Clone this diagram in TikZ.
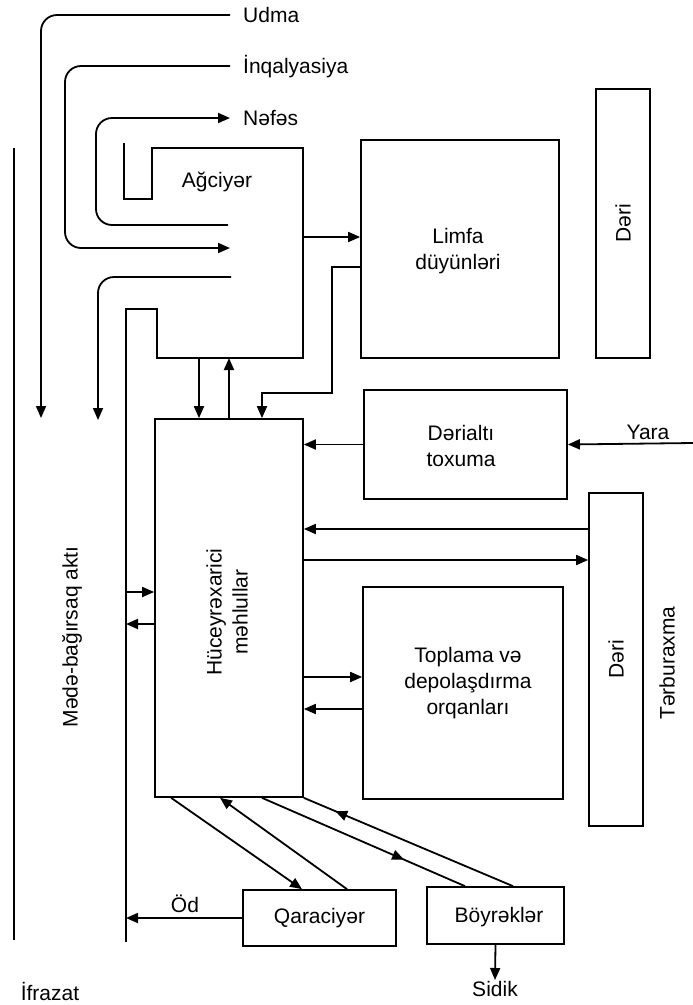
\documentclass[tikz,border=0pt]{standalone}
\usepackage{fontspec}
\setmainfont{Liberation Sans}
\usetikzlibrary{arrows.meta,decorations.markings,calc}
\newcommand\dfont{\fontsize{21}{26}\selectfont}
\begin{document}
\begin{tikzpicture}[x=1pt,y=-1pt,
  ln/.style={line width=1.8pt},
  arr/.style={ln,-{Triangle[length=12pt,width=10pt]}},
  midarr/.style={ln,postaction={decorate},decoration={markings,
     mark=at position #1 with {\arrow{Triangle[length=12pt,width=10pt]}}}},
  box/.style={draw,line width=1.7pt,inner sep=0pt},
  lbl/.style={inner sep=0pt,font=\dfont,align=center},
  tag/.style={inner sep=0pt,font=\dfont,text height=15pt,text depth=0pt},
  rc/.style={rounded corners=16pt}]
\useasboundingbox (0,0) rectangle (693,1005);

% ---------- boxes ----------
\node[box,minimum width=198pt,minimum height=218pt] (limfa) at (460,249) {};
\node[lbl] (limfat) at (458,251) {Limfa\\düyünləri};
\node[box,minimum width=54pt,minimum height=269pt] (deri1) at (623,223.5) {};
\node[lbl,rotate=90] (deri1t) at (deri1) {Dəri};
\node[box,minimum width=203pt,minimum height=109pt] (derialti) at (465.5,444.5) {};
\node[lbl] (derialtit) at (461,446) {Dərialtı\\toxuma};
\node[box,minimum width=148pt,minimum height=378pt] (huc) at (229,608) {};
\node[lbl,rotate=90] (huct) at (227,612) {Hüceyrəxarici\\məhlullar};
\node[box,minimum width=54pt,minimum height=333pt] (deri2) at (616,659.5) {};
\node[lbl,rotate=90] (deri2t) at (deri2) {Dəri};
\node[box,minimum width=200pt,minimum height=212pt] (toplama) at (463,693) {};
\node[lbl] (toplamat) at (468,683) {Toplama və\\depolaşdırma\\orqanları};
\node[box,minimum width=153pt,minimum height=56pt] (qara) at (319.5,918) {};
\node[lbl] (qarat) at (qara) {Qaraciyər};
\node[box,minimum width=137pt,minimum height=57pt] (boyr) at (495.5,915.5) {};
\node[lbl] (boyrt) at (499,917) {Böyrəklər};

% ---------- lung outline and gut channel ----------
\draw[ln] (124,143) -- (124,199) -- (152,199) -- (152,148) -- (303,148) -- (303,358)
  -- (157,358) -- (157,309) -- (126,309) -- (126,942);
\node[lbl] (agc) at (217,182) {Ağciyər};
\draw[ln] (14,148) -- (14,940);

% ---------- free labels ----------
\node[tag,anchor=west] (udma) at (243,15) {Udma};
\node[tag,anchor=west] (inq) at (243,66) {İnqalyasiya};
\node[tag,anchor=west] (nefes) at (243,118) {Nəfəs};
\node[tag] (yara) at (648,432) {Yara};
\node[tag,anchor=base] (od) at (185,912) {Öd};
\node[tag] (ifrazat) at (50,993) {İfrazat};
\node[tag,anchor=north,inner ysep=1pt] (sidik) at (495,980) {Sidik};
\node[lbl,rotate=90] (mede) at (72,637) {Mədə-bağırsaq aktı};
\node[lbl,rotate=90] (terb) at (667,663) {Tərburaxma};

% ---------- coordinates ----------
\coordinate (udmaE) at (41,418);
\coordinate (inqC) at (65,248);
\coordinate (inqE) at (230,248);
\coordinate (nefS) at (228,225);
\coordinate (nefC) at (96,118);
\coordinate (l4S) at (231,277);
\coordinate (l4E) at (98,420);
\coordinate (agcR) at (303,237);
\coordinate (agcB1) at (199,358);
\coordinate (agcB2) at (229,358);
\coordinate (yaraS) at (693,443);
\coordinate (gut) at (126,700);
\coordinate (y267) at (0,267);
\coordinate (y529) at (0,529);
\coordinate (y560) at (0,560);
\coordinate (y592) at (0,592);
\coordinate (y624) at (0,624);
\coordinate (y677) at (0,677);
\coordinate (y709) at (0,709);

% ---------- breathing paths ----------
\draw[arr,rc] ([xshift=-13pt]udma.west) -| (udmaE);
\draw[arr,rc] ([xshift=-13pt]inq.west) -| (inqC) -- (inqE);
\draw[arr,rc] (nefS) -| (nefC) -- ([xshift=-13pt]nefes.west);
\draw[arr,rc] (l4S) -| (l4E);

% ---------- connectors ----------
\draw[arr] (agcR) -- (agcR -| limfa.west);
\draw[arr] (limfa.west |- y267) -| (332,393) -| ([xshift=33pt]huc.north);
\draw[arr] (agcB1) -- (agcB1 |- huc.north);
\draw[arr] (huc.north) -- (agcB2);
\draw[arr] (derialti.west) -- (derialti.west -| huc.east);
\draw[arr] (yaraS) -- (derialti.east);
\draw[arr] (deri2.west |- y529) -- (huc.east |- y529);
\draw[arr] (huc.east |- y560) -- (deri2.west |- y560);
\draw[arr] (huc.east |- y677) -- (toplama.west |- y677);
\draw[arr] (toplama.west |- y709) -- (huc.east |- y709);
\draw[arr] (gut |- y592) -- (huc.west |- y592);
\draw[arr] (huc.west |- y624) -- (gut |- y624);
\draw[arr] (qara.west) -- (qara.west -| gut);
\draw[arr] ([xshift=17pt]huc.south west) -- ([xshift=-17.5pt]qara.north);
\draw[arr] ([xshift=27.5pt]qara.north) -- ([xshift=-9pt]huc.south);
\draw[midarr=0.7] ([xshift=33pt]huc.south) -- ([xshift=-30.5pt]boyr.north);
\draw[midarr=0.85] ([xshift=17.5pt]boyr.north) -- (huc.south east);
\draw[arr] (boyr.south) -- (sidik.north);
\end{tikzpicture}
\end{document}
